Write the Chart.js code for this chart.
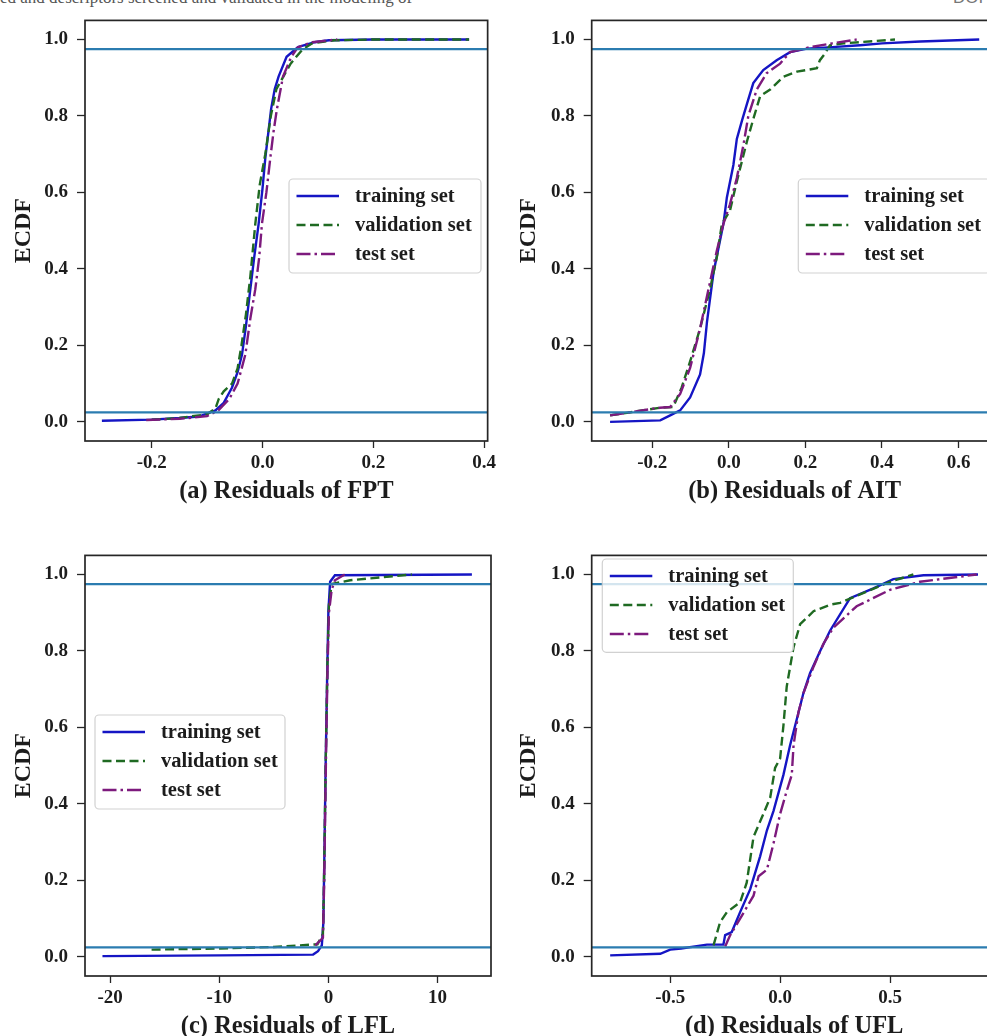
<!DOCTYPE html>
<html><head><meta charset="utf-8">
<script src="https://cdn.jsdelivr.net/npm/chart.js@4.4.1/dist/chart.umd.min.js"></script>
<style>
html,body{margin:0;padding:0;background:#fff;overflow:hidden;width:987px;height:1036px;}
#wrap{position:relative;width:987px;height:1036px;overflow:hidden;background:#fff;}
.pane{position:absolute;}
#hdr{position:absolute;left:0;top:-12px;font:17px 'Liberation Serif',serif;color:#555;white-space:nowrap;}
#doi{position:absolute;left:953px;top:-12px;font:17px 'Liberation Sans',sans-serif;color:#777;white-space:nowrap;}
</style></head><body>
<div id="wrap">
<div id="hdr">ed and descriptors screened and validated in the modeling of</div>
<div id="doi">DOI</div>
<div class="pane" style="left:0;top:0"><canvas id="ca" width="500" height="515"></canvas></div>
<div class="pane" style="left:500px;top:0"><canvas id="cb" width="510" height="515"></canvas></div>
<div class="pane" style="left:0;top:535px"><canvas id="cc" width="500" height="515"></canvas></div>
<div class="pane" style="left:500px;top:535px"><canvas id="cd" width="510" height="515"></canvas></div>
</div>
<script>
// ---------- data ----------
const seriesNames = ['training set', 'validation set', 'test set'];
const refLevels = [0.025, 0.975];
const yTicks = [0.0, 0.2, 0.4, 0.6, 0.8, 1.0];

const aTitle = '(a) Residuals of FPT';
const aXTicks = [-0.2, 0.0, 0.2, 0.4];
const aTrainX = [-0.29, -0.2, -0.15, -0.115, -0.085, -0.07, -0.055, -0.045, -0.037, -0.03, -0.022, -0.015, -0.007, 0.0, 0.005, 0.0155, 0.022, 0.029, 0.0435, 0.064, 0.094, 0.12, 0.2, 0.373];
const aTrainY = [0.003, 0.006, 0.01, 0.014, 0.03, 0.05, 0.09, 0.13, 0.176, 0.25, 0.347, 0.43, 0.518, 0.61, 0.689, 0.818, 0.87, 0.903, 0.955, 0.98, 0.993, 0.998, 1.0, 1.0];
const aValX = [-0.2, -0.15, -0.1, -0.085, -0.079, -0.07, -0.055, -0.045, -0.038, -0.03, -0.022, -0.013, -0.005, 0.005, 0.015, 0.025, 0.0376, 0.05, 0.061, 0.073, 0.09, 0.13, 0.2, 0.373];
const aValY = [0.006, 0.01, 0.02, 0.035, 0.06, 0.08, 0.1, 0.14, 0.2, 0.28, 0.38, 0.518, 0.62, 0.7, 0.8, 0.87, 0.903, 0.935, 0.955, 0.975, 0.99, 0.998, 1.0, 1.0];
const aTestX = [-0.21, -0.15, -0.1, -0.08, -0.06, -0.045, -0.031, -0.022, -0.013, -0.006, -0.001, 0.007, 0.014, 0.02, 0.026, 0.037, 0.052, 0.064, 0.09, 0.135];
const aTestY = [0.005, 0.008, 0.015, 0.03, 0.06, 0.1, 0.176, 0.27, 0.347, 0.43, 0.518, 0.6, 0.689, 0.76, 0.818, 0.903, 0.955, 0.98, 0.993, 1.0];

const bTitle = '(b) Residuals of AIT';
const bXTicks = [-0.2, 0.0, 0.2, 0.4, 0.6];
const bTrainX = [-0.31, -0.179, -0.153, -0.127, -0.101, -0.075, -0.065, -0.057, -0.04, -0.014, -0.005, 0.012, 0.021, 0.035, 0.05, 0.064, 0.09, 0.125, 0.16, 0.204, 0.27, 0.343, 0.4, 0.5, 0.654];
const bTrainY = [0.0, 0.004, 0.017, 0.03, 0.064, 0.124, 0.18, 0.261, 0.39, 0.518, 0.587, 0.672, 0.74, 0.79, 0.84, 0.886, 0.92, 0.946, 0.967, 0.976, 0.98, 0.985, 0.99, 0.995, 1.0];
const bValX = [-0.31, -0.18, -0.145, -0.123, -0.101, -0.075, -0.049, -0.031, -0.018, 0.003, 0.021, 0.047, 0.064, 0.082, 0.108, 0.143, 0.178, 0.23, 0.238, 0.251, 0.264, 0.3, 0.434];
const bValY = [0.017, 0.037, 0.039, 0.09, 0.158, 0.244, 0.347, 0.432, 0.518, 0.552, 0.629, 0.732, 0.792, 0.852, 0.869, 0.903, 0.916, 0.925, 0.946, 0.963, 0.985, 0.99, 1.0];
const bTestX = [-0.31, -0.18, -0.153, -0.127, -0.101, -0.075, -0.053, -0.031, -0.014, 0.003, 0.021, 0.038, 0.051, 0.073, 0.099, 0.134, 0.16, 0.212, 0.27, 0.334];
const bTestY = [0.017, 0.037, 0.039, 0.073, 0.141, 0.244, 0.347, 0.449, 0.518, 0.569, 0.638, 0.723, 0.8, 0.869, 0.912, 0.937, 0.967, 0.98, 0.99, 1.0];

const cTitle = '(c) Residuals of LFL';
const cXTicks = [-20, -10, 0, 10];
const cTrainX = [-20.7, -10, -1.4, -0.95, -0.6, -0.46, -0.35, -0.24, -0.12, 0.0, 0.16, 0.6, 13.15];
const cTrainY = [0.002, 0.004, 0.006, 0.015, 0.03, 0.09, 0.3, 0.52, 0.72, 0.904, 0.981, 0.998, 1.0];
const cValX = [-16.2, -10, -5, -1.0, -0.5, -0.4, -0.25, -0.1, 0.05, 0.3, 2, 5, 7.65];
const cValY = [0.019, 0.022, 0.026, 0.033, 0.06, 0.2, 0.5, 0.75, 0.92, 0.975, 0.985, 0.993, 1.0];
const cTestX = [-1.2, -0.5, -0.38, -0.22, -0.08, 0.05, 0.3, 0.6, 1.5];
const cTestY = [0.03, 0.05, 0.2, 0.52, 0.75, 0.9, 0.96, 0.985, 1.0];

const dTitle = '(d) Residuals of UFL';
const dXTicks = [-0.5, 0.0, 0.5];
const dTrainX = [-0.773, -0.545, -0.5, -0.45, -0.333, -0.258, -0.25, -0.22, -0.182, -0.136, -0.091, -0.06, -0.03, 0.015, 0.045, 0.076, 0.106, 0.136, 0.182, 0.227, 0.318, 0.424, 0.515, 0.652, 0.9];
const dTrainY = [0.004, 0.008, 0.019, 0.022, 0.032, 0.032, 0.057, 0.065, 0.117, 0.177, 0.263, 0.331, 0.382, 0.476, 0.553, 0.622, 0.69, 0.742, 0.8, 0.853, 0.938, 0.964, 0.988, 0.998, 1.0];
const dValX = [-0.303, -0.273, -0.242, -0.182, -0.152, -0.121, -0.076, -0.045, -0.023, 0.0, 0.015, 0.03, 0.061, 0.091, 0.152, 0.227, 0.273, 0.5, 0.606];
const dValY = [0.03, 0.091, 0.117, 0.143, 0.194, 0.314, 0.374, 0.417, 0.494, 0.519, 0.605, 0.707, 0.81, 0.87, 0.904, 0.921, 0.926, 0.981, 1.0];
const dTestX = [-0.25, -0.227, -0.182, -0.121, -0.098, -0.06, -0.03, 0.0, 0.03, 0.053, 0.061, 0.083, 0.106, 0.152, 0.197, 0.242, 0.348, 0.5, 0.636, 0.894];
const dTestY = [0.027, 0.057, 0.1, 0.16, 0.211, 0.228, 0.297, 0.374, 0.434, 0.476, 0.553, 0.639, 0.69, 0.759, 0.819, 0.861, 0.917, 0.96, 0.981, 1.0];

// ---------- styling ----------
const FONT = "'Liberation Serif', 'Times New Roman', serif";
const TXT = '#1c1c1c';
const seriesStyles = [
  {color: '#1515c4', dash: []},
  {color: '#1f6a22', dash: [9, 4.5]},
  {color: '#7d1a7d', dash: [14, 4, 2.5, 4]}
];
const pts = (xs, ys) => xs.map((x, i) => ({x: x, y: ys[i]}));

const decor = {
  id: 'decor',
  afterDatasetsDraw(chart, args, opts) {
    const {ctx, chartArea: a, scales: {y}} = chart;
    ctx.save();
    ctx.beginPath(); ctx.rect(a.left, a.top, a.width, a.height); ctx.clip();
    ctx.strokeStyle = '#2b7cb0'; ctx.lineWidth = 2.3;
    refLevels.forEach(v => {
      const py = y.getPixelForValue(v);
      ctx.beginPath(); ctx.moveTo(a.left, py); ctx.lineTo(a.right, py); ctx.stroke();
    });
    ctx.restore();
    ctx.save();
    ctx.strokeStyle = '#262626'; ctx.lineWidth = 1.7;
    ctx.strokeRect(a.left, a.top, a.width, a.height);
    ctx.restore();
    // legend
    const L = opts.legend;
    ctx.save();
    ctx.beginPath();
    if (ctx.roundRect) ctx.roundRect(L.x, L.y, L.w, L.h, 4); else ctx.rect(L.x, L.y, L.w, L.h);
    ctx.fillStyle = 'rgba(255,255,255,0.8)'; ctx.fill();
    ctx.strokeStyle = 'rgba(204,204,204,0.9)'; ctx.lineWidth = 1.2; ctx.stroke();
    chart.data.datasets.forEach((ds, i) => {
      const ry = L.y + 17 + i * 29;
      ctx.strokeStyle = ds.borderColor; ctx.lineWidth = 2.7;
      ctx.setLineDash(ds.borderDash || []);
      ctx.beginPath(); ctx.moveTo(L.x + 7.5, ry); ctx.lineTo(L.x + 50, ry); ctx.stroke();
      ctx.setLineDash([]);
      ctx.fillStyle = TXT; ctx.font = 'bold 20.5px ' + FONT;
      ctx.textBaseline = 'middle'; ctx.textAlign = 'left';
      ctx.fillText(ds.label, L.x + 66, ry + 1);
    });
    ctx.restore();
  }
};

function makeChart(id, cfg) {
  const datasets = cfg.series.map((s, i) => ({
    label: seriesNames[i],
    data: pts(s[0], s[1]),
    showLine: true,
    borderColor: seriesStyles[i].color,
    borderDash: seriesStyles[i].dash,
    borderWidth: 2.4,
    pointRadius: 0,
    tension: 0,
    fill: false,
    order: 2 - i
  }));
  return new Chart(document.getElementById(id), {
    type: 'scatter',
    data: {datasets: datasets},
    plugins: [decor],
    options: {
      responsive: false,
      animation: false,
      events: [],
      layout: {padding: {top: 13, right: cfg.padRight, left: 0, bottom: 0}},
      plugins: {legend: {display: false}, tooltip: {enabled: false}, decor: {legend: cfg.legend}},
      scales: {
        x: {
          type: 'linear', min: cfg.xMin, max: cfg.xMax,
          afterBuildTicks: s => { s.ticks = cfg.xTicks.map(v => ({value: v})); },
          afterFit: s => { s.height = 74; },
          grid: {display: true, drawOnChartArea: false, drawTicks: true, tickLength: 7, tickColor: '#262626', tickWidth: 1.3},
          border: {display: false},
          ticks: {font: {family: FONT, weight: 'bold', size: 19}, color: TXT, padding: 4, maxRotation: 0, autoSkip: false,
                  callback: v => cfg.xFmt(v)},
          title: {display: true, text: cfg.title, font: {family: FONT, weight: 'bold', size: 24.5}, color: TXT,
                  padding: {top: 0, bottom: 8.5}}
        },
        y: {
          type: 'linear', min: -0.05, max: 1.05,
          afterBuildTicks: s => { s.ticks = yTicks.map(v => ({value: v})); },
          afterFit: s => { s.width = cfg.yAxisW; },
          grid: {display: true, drawOnChartArea: false, drawTicks: true, tickLength: 8, tickColor: '#262626', tickWidth: 1.3},
          border: {display: false},
          ticks: {font: {family: FONT, weight: 'bold', size: 19}, color: TXT, padding: 9, autoSkip: false,
                  callback: v => v.toFixed(1)},
          title: {display: true, text: 'ECDF', font: {family: FONT, weight: 'bold', size: 24}, color: TXT,
                  padding: {top: cfg.yTitlePad, bottom: 0}}
        }
      }
    }
  });
}

const fmt1 = v => v.toFixed(1);
const fmt0 = v => String(Math.round(v));

makeChart('ca', {title: aTitle, xTicks: aXTicks, xMin: -0.3205, xMax: 0.4065, xFmt: fmt1, padRight: 9, yAxisW: 85, yTitlePad: 9, 
  series: [[aTrainX, aTrainY], [aValX, aValY], [aTestX, aTestY]],
  legend: {x: 289, y: 179, w: 192, h: 94}});
makeChart('cb', {title: bTitle, xTicks: bXTicks, xMin: -0.358, xMax: 0.702, xFmt: fmt1, padRight: 12.4, yAxisW: 91.7, yTitlePad: 14,
  series: [[bTrainX, bTrainY], [bValX, bValY], [bTestX, bTestY]],
  legend: {x: 298.3, y: 179, w: 192, h: 94}});
makeChart('cc', {title: cTitle, xTicks: cXTicks, xMin: -22.3, xMax: 14.9, xFmt: fmt0, padRight: 9, yAxisW: 85, yTitlePad: 9,
  series: [[cTrainX, cTrainY], [cValX, cValY], [cTestX, cTestY]],
  legend: {x: 95, y: 180, w: 190, h: 94}});
makeChart('cd', {title: dTitle, xTicks: dXTicks, xMin: -0.857, xMax: 0.985, xFmt: fmt1, padRight: 13.3, yAxisW: 91.7, yTitlePad: 14,
  series: [[dTrainX, dTrainY], [dValX, dValY], [dTestX, dTestY]],
  legend: {x: 102.3, y: 24, w: 191, h: 93.3}});
</script>
</body></html>
